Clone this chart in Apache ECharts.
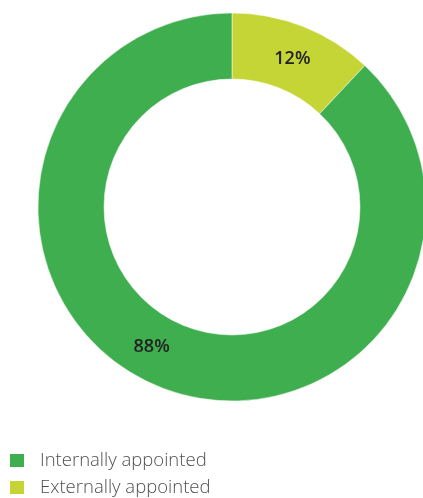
<!DOCTYPE html>
<html>
<head>
<meta charset="utf-8">
<style>
  html, body { margin: 0; padding: 0; background: #ffffff; }
  #chart { width: 423px; height: 498px; }
</style>
<script src="https://cdn.jsdelivr.net/npm/echarts@6/dist/echarts.min.js"></script>
</head>
<body>
<div id="chart"></div>
<script>
// Appointment source shares (percent)
const categories = ['Externally appointed', 'Internally appointed'];
const values = [12, 88];
const colors = ['#c5d535', '#3fae4f'];
const legendOrder = ['Internally appointed', 'Externally appointed'];

const chart = echarts.init(document.getElementById('chart'), null, { renderer: 'canvas' });

const labelOffsets = {
  'Externally appointed': [0, 4],
  'Internally appointed': [-20, -13]
};

const data = categories.map((name, i) => ({
  name: name,
  value: values[i],
  itemStyle: { color: colors[i] },
  label: { offset: labelOffsets[name] }
}));

const legendText = {
  fontFamily: 'Open Sans',
  fontWeight: 300,
  fontSize: 18.5,
  color: '#505050',
  padding: [0, 0, 0, 10]
};

// one legend row per category, stacked
const legends = legendOrder.map((name, i) => ({
  left: 3,
  top: 446 + i * 27,
  data: [name],
  icon: 'rect',
  itemWidth: 16,
  itemHeight: 15,
  selectedMode: false,
  textStyle: legendText
}));

chart.setOption({
  animation: false,
  legend: legends,
  series: [{
    type: 'pie',
    center: [232, 207],
    radius: [128, 194],
    startAngle: 90,
    clockwise: true,
    avoidLabelOverlap: false,
    itemStyle: { borderColor: '#ffffff', borderWidth: 0.5 },
    label: {
      show: true,
      position: 'inside',
      formatter: '{c}%',
      fontFamily: 'Open Sans',
      fontWeight: 600,
      fontSize: 18,
      color: '#222222'
    },
    labelLine: { show: false },
    emphasis: { disabled: true },
    data: data
  }]
});
</script>
</body>
</html>
